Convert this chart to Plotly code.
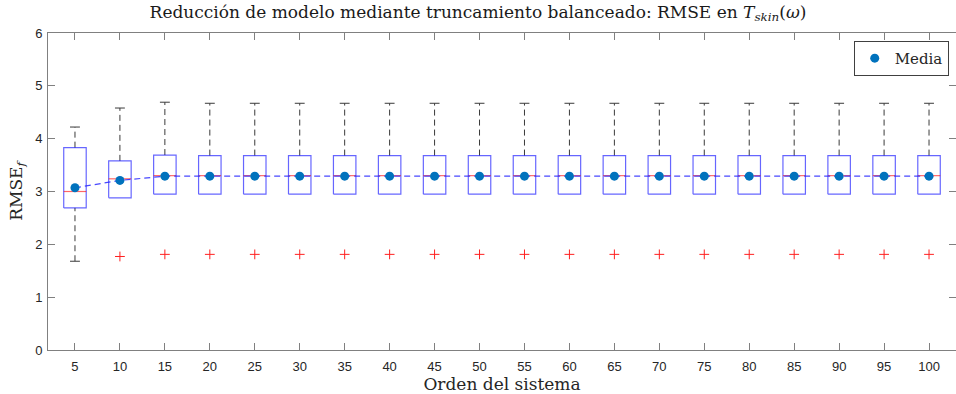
import plotly.graph_objects as go

orders = [5, 10, 15, 20, 25, 30, 35, 40, 45, 50, 55, 60, 65, 70, 75, 80, 85, 90, 95, 100]
q1 =     [2.69, 2.88] + [2.95] * 18
q3 =     [3.83, 3.58, 3.69] + [3.68] * 17
median = [3.00, 3.24] + [3.30] * 18
upper =  [4.22, 4.58, 4.69] + [4.67] * 17
lower =  [1.68, 2.88] + [2.95] * 18
outlier_x = orders[1:]
outlier_y = [1.77] + [1.81] * 18
means = [3.07, 3.21] + [3.29] * 18

HW = 1.25   # box half-width in x units
CW = 0.55   # whisker cap half-width

bx, by, mx, my, wx, wy, cx, cy = [], [], [], [], [], [], [], []
for o, a, b, m, u, l in zip(orders, q1, q3, median, upper, lower):
    bx += [o - HW, o + HW, o + HW, o - HW, o - HW, None]
    by += [a, a, b, b, a, None]
    mx += [o - HW, o + HW, None]
    my += [m, m, None]
    wx += [o, o, None]
    wy += [b, u, None]
    cx += [o - CW, o + CW, None]
    cy += [u, u, None]
    if l < a:
        wx += [o, o, None]
        wy += [l, a, None]
        cx += [o - CW, o + CW, None]
        cy += [l, l, None]

fig = go.Figure()
fig.add_trace(go.Scatter(x=wx, y=wy, mode="lines", line=dict(color="#3a3a3a", width=1, dash="6px,4px"),
                         showlegend=False, hoverinfo="skip"))
fig.add_trace(go.Scatter(x=cx, y=cy, mode="lines", line=dict(color="#3a3a3a", width=1),
                         showlegend=False, hoverinfo="skip"))
fig.add_trace(go.Scatter(x=bx, y=by, mode="lines", line=dict(color="rgba(0,0,255,0.6)", width=1.2),
                         showlegend=False, hoverinfo="skip"))
fig.add_trace(go.Scatter(x=mx, y=my, mode="lines", line=dict(color="rgba(255,0,0,0.6)", width=1.2),
                         showlegend=False, hoverinfo="skip"))
fig.add_trace(go.Scatter(x=outlier_x, y=outlier_y, mode="markers",
                         marker=dict(symbol="cross-thin", size=7, line=dict(color="#ff2020", width=1)),
                         showlegend=False))
fig.add_trace(go.Scatter(x=orders, y=means, mode="lines", line=dict(color="rgba(40,40,255,0.85)", width=1.2, dash="6px,4px"),
                         showlegend=False, hoverinfo="skip"))
fig.add_trace(go.Scatter(x=orders, y=means, mode="markers", name="Media",
                         marker=dict(color="#0072BD", size=9)))

axis_common = dict(showgrid=False, zeroline=False, showline=True, linecolor="#808080", linewidth=1,
                   ticks="inside", ticklen=7, tickcolor="#808080", mirror="allticks",
                   tickfont=dict(family="Liberation Sans, Arial", size=13, color="#262626"))

fig.update_layout(
    width=956, height=394,
    margin=dict(l=48, r=0, t=33, b=44),
    paper_bgcolor="white", plot_bgcolor="white",
    title=dict(text="Reducción de modelo mediante truncamiento balanceado: RMSE en <i>T</i><sub><i>skin</i></sub>(<i>ω</i>)",
               x=0.5, xanchor="center", y=0.985, yanchor="top",
               font=dict(family="DejaVu Serif", size=17, color="#1a1a1a")),
    xaxis=dict(range=[2, 103], tickvals=orders, ticktext=[str(o) for o in orders], ticklabelstandoff=4,
               title=dict(text="Orden del sistema", font=dict(family="DejaVu Serif", size=17, color="#262626"), standoff=2),
               **axis_common),
    yaxis=dict(range=[0, 6], dtick=1, ticklabelstandoff=2,
               title=dict(text="RMSE<sub><i>f</i></sub>", font=dict(family="DejaVu Serif", size=17, color="#262626"), standoff=8),
               **axis_common),
    legend=dict(x=0.992, y=0.975, xanchor="right", yanchor="top", bordercolor="#404040", borderwidth=1,
                bgcolor="white", font=dict(family="DejaVu Serif", size=15, color="#262626")),
    showlegend=True,
)

fig.write_html("out.html")
